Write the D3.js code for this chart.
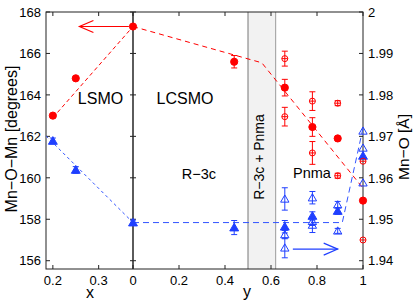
<!DOCTYPE html>
<html>
<head>
<meta charset="utf-8">
<script src="https://cdn.jsdelivr.net/npm/d3@7"></script>
<style>
  body { margin: 0; background: #fff; }
  svg { font-family: "Liberation Sans", Arial, sans-serif; }
</style>
</head>
<body>
<svg id="graph" width="415" height="303"></svg>
<script>
// ---- data ----
// LSMO part (x axis, left block)
const lsmoX = [0.2, 0.25, 0.375];
const lsmoAngle = [163.0, 164.8, 167.3];
const lsmoBond = [1.9689, 1.9619, 1.9492];
const lsmoBondErr = [0.0007, 0.0008, 0.0006];
const lsmoAngleFitX = [0.2, 0.375], lsmoAngleFit = [162.9, 167.3];
const lsmoBondFitX = [0.185, 0.375], lsmoBondFit = [1.9701, 1.9492];

// LCSMO R-3c point
const r3cY = [0.44];
const r3cAngle = [165.6], r3cAngleErr = [0.3];
const r3cBond = [1.948], r3cBondErr = [0.0017];

// LCSMO Pnma points
const pnmaY = [0.66, 0.78, 0.89, 1];
const pnmaAngle = [164.35, 162.45, 161.9, 158.9];
const pnmaAngleErr = [0.4, 0.45, 0, 0];
const pnmaAngleOpen = [[165.75, 162.95], [163.7, 161.2], [163.6, 160.1], [160.8, 157.0]];
const pnmaAngleOpenErr = [[0.36, 0.45], [0.45, 0.55], [0.12, 0.12], [0, 0]];
const pnmaBond = [1.9482, 1.9508, 1.952, 1.9653];
const pnmaBondErr = [0.0015, 0.001, 0.0008, 0];
const pnmaBondOpen = [[1.9549, 1.9463, 1.9431], [1.9552, 1.9495, 1.9486], [1.9535, 1.9472], [1.9713, 1.9672, 1.9588]];
const pnmaBondOpenErr = [[0.0027, 0.001, 0.0024], [0.0015, 0.001, 0.0018], [0.0008, 0.0006], [0, 0, 0]];

const lcsmoAngleFitY = [0, 0.56, 1], lcsmoAngleFit = [167.3, 165.55, 159.5];
const lcsmoBondFitY = [0, 0.91, 1], lcsmoBondFit = [1.9492, 1.9492, 1.972];

const band = [0.5, 0.62];
const xTicks = [0.2, 0.3];
const yTicks = [0, 0.2, 0.4, 0.6, 0.8, 1];
const angleTicks = [156, 158, 160, 162, 164, 166, 168];
const bondTicks = [1.94, 1.95, 1.96, 1.97, 1.98, 1.99, 2];

//==================== SET UP =====================
const svg = d3.select("#graph");
const mLeft = 46, mRight = 363, mTop = 12, mBottom = 269, split = 133;
const red = "#ff0000", blue = "#1f3fff";

const x1 = d3.scaleLinear().domain([0.185, 0.375]).range([mLeft, split]);
const x2 = d3.scaleLinear().domain([0, 1]).range([split, mRight]);
const yL = d3.scaleLinear().domain([155.6, 168]).range([mBottom, mTop]);
const yR = d3.scaleLinear().domain([1.938, 2.0]).range([mBottom, mTop]);

// two-phase band
svg.append("rect")
  .attr("x", x2(band[0])).attr("y", mTop)
  .attr("width", x2(band[1]) - x2(band[0])).attr("height", mBottom - mTop)
  .attr("fill", "#f2f2f2");
svg.append("line").attr("x1", x2(band[0])).attr("x2", x2(band[0]))
  .attr("y1", mTop).attr("y2", mBottom).attr("stroke", "#777").attr("stroke-width", 1);
svg.append("line").attr("x1", x2(band[1])).attr("x2", x2(band[1]))
  .attr("y1", mTop).attr("y2", mBottom).attr("stroke", "#aaa").attr("stroke-width", 1.2);

//==================== AXES =====================
const tk = 4;
const axisG = svg.append("g").attr("stroke", "#222").attr("stroke-width", 1);
// frame
axisG.append("rect").attr("x", mLeft).attr("y", mTop)
  .attr("width", mRight - mLeft).attr("height", mBottom - mTop).attr("fill", "none");
// divider
axisG.append("line").attr("x1", split).attr("x2", split).attr("y1", mTop).attr("y2", mBottom)
  .attr("stroke-width", 1.6).attr("stroke", "#333");

angleTicks.forEach(function(t) {
  axisG.append("line").attr("x1", mLeft).attr("x2", mLeft + tk).attr("y1", yL(t)).attr("y2", yL(t));
  axisG.append("line").attr("x1", split - 3).attr("x2", split + 3).attr("y1", yL(t)).attr("y2", yL(t));
});
bondTicks.forEach(function(t) {
  axisG.append("line").attr("x1", mRight - tk).attr("x2", mRight).attr("y1", yR(t)).attr("y2", yR(t));
});
xTicks.forEach(function(t) {
  axisG.append("line").attr("x1", x1(t)).attr("x2", x1(t)).attr("y1", mBottom).attr("y2", mBottom - tk);
  axisG.append("line").attr("x1", x1(t)).attr("x2", x1(t)).attr("y1", mTop).attr("y2", mTop + tk);
});
yTicks.forEach(function(t) {
  axisG.append("line").attr("x1", x2(t)).attr("x2", x2(t)).attr("y1", mBottom).attr("y2", mBottom - tk);
  axisG.append("line").attr("x1", x2(t)).attr("x2", x2(t)).attr("y1", mTop).attr("y2", mTop + tk);
});

const lab = svg.append("g").attr("font-size", 13).attr("fill", "#000");
angleTicks.forEach(function(t) {
  lab.append("text").attr("x", mLeft - 5).attr("y", yL(t) + 4.7).attr("text-anchor", "end").text(t);
});
bondTicks.forEach(function(t) {
  lab.append("text").attr("x", mRight + 5).attr("y", yR(t) + 4.7).text(t === 2 ? "2" : t.toFixed(2));
});
xTicks.forEach(function(t) {
  lab.append("text").attr("x", x1(t)).attr("y", 284.5).attr("text-anchor", "middle").text(t);
});
yTicks.forEach(function(t) {
  lab.append("text").attr("x", x2(t)).attr("y", 284.5).attr("text-anchor", "middle").text(t);
});

svg.append("text").attr("x", 90).attr("y", 298).attr("font-size", 16).attr("text-anchor", "middle").text("x");
svg.append("text").attr("x", 247).attr("y", 297).attr("font-size", 16).attr("text-anchor", "middle").text("y");
svg.append("text").attr("transform", "translate(17,139) rotate(-90)")
  .attr("font-size", 16).attr("text-anchor", "middle").text("Mn\u2212O\u2212Mn [degrees]");
svg.append("text").attr("transform", "translate(408.5,147) rotate(-90)")
  .attr("font-size", 15.5).attr("text-anchor", "middle").text("Mn\u2212O [\u00c5]");

// region labels
const reg = svg.append("g").attr("fill", "#000");
reg.append("text").attr("x", 100.5).attr("y", 104).attr("font-size", 16).attr("text-anchor", "middle").text("LSMO");
reg.append("text").attr("x", 185).attr("y", 104).attr("font-size", 16).attr("text-anchor", "middle").text("LCSMO");
reg.append("text").attr("x", 199).attr("y", 179).attr("font-size", 14.5).attr("text-anchor", "middle").text("R\u22123c");
reg.append("text").attr("x", 312).attr("y", 178).attr("font-size", 14.5).attr("text-anchor", "middle").text("Pnma");
reg.append("text").attr("transform", "translate(264,157) rotate(-90)")
  .attr("font-size", 14).attr("text-anchor", "middle").text("R\u22123c + Pnma");

//==================== TREND LINES =====================
function dashed(xs, vs, xs_, ys_, color, dash) {
  const line = d3.line().x(function(d) { return xs_(d[0]); }).y(function(d) { return ys_(d[1]); });
  svg.append("path")
    .attr("d", line(xs.map(function(v, i) { return [v, vs[i]]; })))
    .attr("fill", "none").attr("stroke", color).attr("stroke-width", 1)
    .attr("stroke-dasharray", dash);
}
dashed(lsmoAngleFitX, lsmoAngleFit, x1, yL, red, "4,3");
dashed(lsmoBondFitX, lsmoBondFit, x1, yR, "#3355ff", "3,3");
dashed(lcsmoAngleFitY, lcsmoAngleFit, x2, yL, red, "5,4");
dashed(lcsmoBondFitY, lcsmoBondFit, x2, yR, "#3355ff", "6,4");

//==================== MARKERS =====================
function errbar(px, py0, py1, color) {
  if (Math.abs(py1 - py0) < 0.5) return;
  svg.append("line").attr("x1", px).attr("x2", px).attr("y1", py0).attr("y2", py1)
    .attr("stroke", color).attr("stroke-width", 1);
  [py0, py1].forEach(function(p) {
    svg.append("line").attr("x1", px - 3).attr("x2", px + 3).attr("y1", p).attr("y2", p)
      .attr("stroke", color).attr("stroke-width", 1);
  });
}
function circle(px, py, filled) {
  svg.append("circle").attr("cx", px).attr("cy", py).attr("r", filled ? 3.6 : 3)
    .attr("fill", filled ? red : "none").attr("stroke", red).attr("stroke-width", 1);
  if (!filled) svg.append("line").attr("x1", px - 3).attr("x2", px + 3).attr("y1", py).attr("y2", py)
    .attr("stroke", red).attr("stroke-width", 1);
}
const tri = d3.symbol().type(d3.symbolTriangle);
function triangle(px, py, filled) {
  svg.append("path").attr("d", tri.size(filled ? 34 : 30)())
    .attr("transform", "translate(" + px + "," + (py + 0.8) + ")")
    .attr("fill", filled ? blue : "none").attr("stroke", blue).attr("stroke-width", 1);
}

// LSMO
lsmoX.forEach(function(v, i) {
  errbar(x1(v), yR(lsmoBond[i] - lsmoBondErr[i]), yR(lsmoBond[i] + lsmoBondErr[i]), blue);
  triangle(x1(v), yR(lsmoBond[i]), true);
  circle(x1(v), yL(lsmoAngle[i]), true);
});

// R-3c
r3cY.forEach(function(v, i) {
  errbar(x2(v), yL(r3cAngle[i] - r3cAngleErr[i]), yL(r3cAngle[i] + r3cAngleErr[i]), red);
  circle(x2(v), yL(r3cAngle[i]), true);
  errbar(x2(v), yR(r3cBond[i] - r3cBondErr[i]), yR(r3cBond[i] + r3cBondErr[i]), blue);
  triangle(x2(v), yR(r3cBond[i]), true);
});

// Pnma
pnmaY.forEach(function(v, i) {
  const px = x2(v);
  pnmaBondOpen[i].forEach(function(b, j) {
    const e = pnmaBondOpenErr[i][j];
    errbar(px, yR(b - e), yR(b + e), blue);
    triangle(px, yR(b), false);
  });
  errbar(px, yR(pnmaBond[i] - pnmaBondErr[i]), yR(pnmaBond[i] + pnmaBondErr[i]), blue);
  triangle(px, yR(pnmaBond[i]), true);

  pnmaAngleOpen[i].forEach(function(a, j) {
    const e = pnmaAngleOpenErr[i][j];
    errbar(px, yL(a - e), yL(a + e), red);
    circle(px, yL(a), false);
  });
  errbar(px, yL(pnmaAngle[i] - pnmaAngleErr[i]), yL(pnmaAngle[i] + pnmaAngleErr[i]), red);
  circle(px, yL(pnmaAngle[i]), true);
});

//==================== ARROWS =====================
function arrow(xa, xb, py, color, dir) {
  svg.append("line").attr("x1", xa).attr("x2", xb).attr("y1", py).attr("y2", py)
    .attr("stroke", color).attr("stroke-width", 1.2);
  const tip = dir < 0 ? xa : xb;
  svg.append("path")
    .attr("d", "M" + (tip - dir * 14) + "," + (py - 6) + "L" + tip + "," + py + "L" + (tip - dir * 14) + "," + (py + 6))
    .attr("fill", "none").attr("stroke", color).attr("stroke-width", 1.2);
}
arrow(x1(0.258), x1(0.366), yL(167.3), red, -1);
arrow(x2(0.695), x2(0.89), yR(1.9428), blue, 1);
</script>
</body>
</html>
